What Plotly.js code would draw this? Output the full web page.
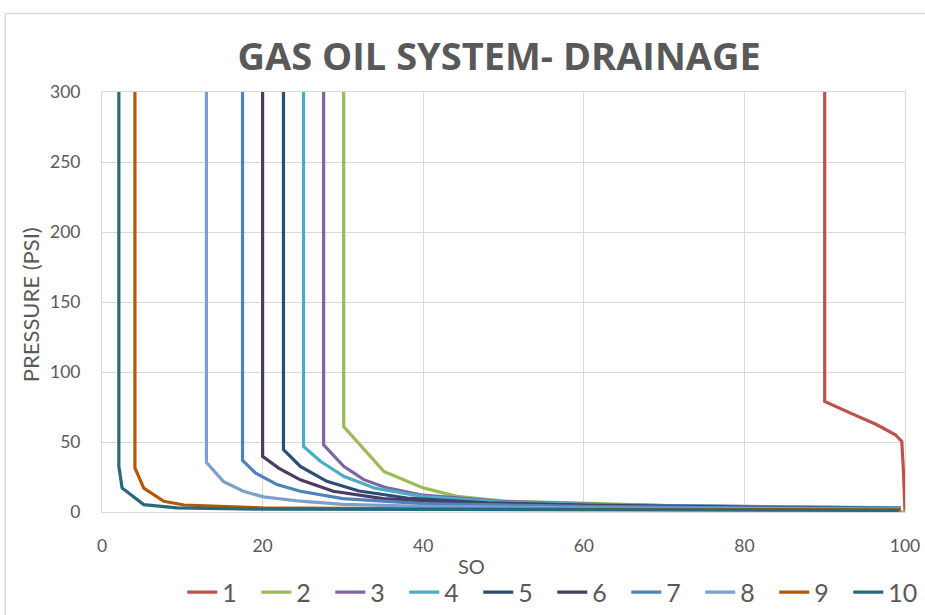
<!DOCTYPE html>
<html>
<head>
<meta charset="utf-8">
<script src="https://cdn.plot.ly/plotly-3.0.1.min.js"></script>
<style>
html,body{margin:0;padding:0;background:#fff;}
#chart{width:925px;height:615px;}
</style>
</head>
<body>
<div id="chart"></div>
<script>
// Series names
var seriesNames = ['1','2','3','4','5','6','7','8','9','10'];
var seriesColors = ['#C0504D','#9BBB59','#8064A2','#4BACC6','#2C4D75','#4D3B62','#4F81BD','#7BA0CD','#B65708','#276A7C'];

// SO (x) and PRESSURE (y) per series
var so1 = [90, 90, 92.8, 96.5, 98.8, 99.6, 99.8, 100];
var p1  = [300, 78.9, 71.7, 62.3, 55.2, 50.4, 30, 0];

var so2 = [30.1, 30.1, 35.1, 40, 44.2, 50.4, 58.7, 70, 85, 100];
var p2  = [300, 61, 29, 17.2, 11.2, 7.7, 6.5, 4.5, 3, 0];

var so3 = [27.6, 27.6, 30.1, 32.6, 35.5, 40, 50, 65, 80, 99.5];
var p3  = [300, 48, 32.6, 23.1, 17.2, 12, 7.5, 5, 4, 3];

var so4 = [25.1, 25.1, 27.2, 30.1, 34, 40, 50, 65, 80, 99.5];
var p4  = [300, 46.8, 36.2, 25.5, 17, 11, 7, 5, 3.8, 2.8];

var so5 = [22.6, 22.6, 24.7, 28, 32, 38, 48, 60, 80, 99.5];
var p5  = [300, 44.5, 32.6, 21.9, 15, 10, 6.5, 5, 3.5, 2.5];

var so6 = [20, 20, 22, 24.7, 28.8, 35, 45, 60, 80, 99.5];
var p6  = [300, 39.7, 31.4, 23, 14.8, 9.5, 6.5, 4.5, 3.2, 2.5];

var so7 = [17.5, 17.5, 19.1, 21.8, 24.7, 30, 40, 60, 80, 99.5];
var p7  = [300, 36.9, 27.9, 19.6, 14.8, 9.5, 6, 4, 3, 2.5];

var so8 = [13, 13, 15.1, 17.6, 20.1, 24.7, 30, 40, 60, 80, 99.5];
var p8  = [300, 35.4, 21.9, 14.8, 10.8, 7.7, 5.5, 4, 3, 2.5, 2];

var so9 = [4.1, 4.1, 5.2, 7.7, 10.2, 20, 40, 60, 80, 99.5];
var p9  = [300, 31.5, 17, 7.7, 5, 3, 2.2, 2, 1.8, 1.5];

var so10 = [2.1, 2.1, 2.5, 5.2, 9.3, 20, 40, 60, 80, 99.2];
var p10  = [300, 32.6, 17.2, 5.3, 3, 2, 1.8, 1.6, 1.5, 1.2];

var xTickVals = [0, 20, 40, 60, 80, 100];
var yTickVals = [0, 50, 100, 150, 200, 250, 300];

var allSO = [so1, so2, so3, so4, so5, so6, so7, so8, so9, so10];
var allP  = [p1, p2, p3, p4, p5, p6, p7, p8, p9, p10];

var textColor = '#595959';
var fontFam = 'Lato, "Open Sans", sans-serif';

var traces = seriesNames.map(function(name, i){
  return {
    type: 'scatter',
    mode: 'lines',
    name: name,
    x: allSO[i],
    y: allP[i],
    line: {color: seriesColors[i], width: 3.2},
    hoverinfo: 'x+y+name'
  };
});

var L = 101.7, W = 803.3, B = 512.5, H = 420.8;
function px(x){ return (x - L) / W; }
function py(y){ return (B - y) / H; }

var layout = {
  width: 925,
  height: 615,
  paper_bgcolor: '#ffffff',
  plot_bgcolor: '#ffffff',
  margin: {l: L, r: 925 - L - W, t: B - H, b: 615 - B, pad: 0, autoexpand: false},
  title: {
    text: '<b>GAS OIL SYSTEM- DRAINAGE</b>',
    font: {family: '"Open Sans", Lato, sans-serif', size: 38, color: textColor},
    x: px(499), xref: 'paper', xanchor: 'center',
    y: 1 - 57 / 615, yref: 'container', yanchor: 'middle'
  },
  showlegend: true,
  legend: {
    orientation: 'h',
    x: px(182), xanchor: 'left',
    y: py(593), yanchor: 'middle',
    font: {family: fontFam, size: 25, color: textColor},
    itemwidth: 30,
    entrywidth: 29,
    entrywidthmode: 'pixels',
    tracegroupgap: 0,
    bgcolor: 'rgba(0,0,0,0)'
  },
  xaxis: {
    range: [0, 100],
    tickvals: xTickVals,
    ticktext: xTickVals.map(String),
    showgrid: true,
    gridcolor: '#D9D9D9',
    gridwidth: 1,
    zeroline: false,
    showline: true,
    linecolor: '#D9D9D9',
    linewidth: 1,
    mirror: true,
    ticks: '',
    ticklabelstandoff: 18,
    tickfont: {family: fontFam, size: 17.5, color: textColor},
    fixedrange: true
  },
  yaxis: {
    range: [0, 300],
    tickvals: yTickVals,
    ticktext: yTickVals.map(String),
    showgrid: true,
    gridcolor: '#D9D9D9',
    gridwidth: 1,
    zeroline: false,
    showline: true,
    linecolor: '#D9D9D9',
    linewidth: 1,
    mirror: true,
    ticks: '',
    ticklabelstandoff: 17,
    tickfont: {family: fontFam, size: 17.5, color: textColor},
    fixedrange: true
  },
  annotations: [
    {
      text: 'SO', xref: 'paper', yref: 'paper',
      x: px(471), y: py(567),
      xanchor: 'center', yanchor: 'middle', showarrow: false,
      font: {family: fontFam, size: 20, color: textColor}
    },
    {
      text: 'PRESSURE (PSI)', xref: 'paper', yref: 'paper',
      x: px(31), y: py(305),
      xanchor: 'center', yanchor: 'middle', showarrow: false, textangle: -90,
      font: {family: fontFam, size: 22, color: textColor}
    }
  ],
  shapes: [
    {
      type: 'line', xref: 'paper', yref: 'paper', layer: 'below',
      x0: px(5), x1: 1.1, y0: py(13), y1: py(13),
      line: {color: '#D9D9D9', width: 1.5}
    },
    {
      type: 'line', xref: 'paper', yref: 'paper', layer: 'below',
      x0: px(5), x1: px(5), y0: py(13), y1: py(640),
      line: {color: '#D9D9D9', width: 1.5}
    }
  ]
};

Plotly.newPlot('chart', traces, layout, {displayModeBar: false, staticPlot: true});
</script>
</body>
</html>
